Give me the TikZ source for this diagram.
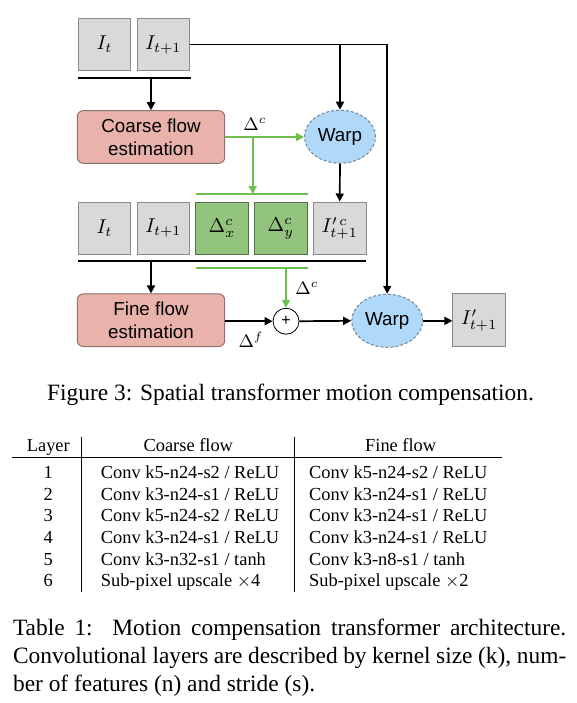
\documentclass[tikz,border=0pt]{standalone}
\usepackage{fontspec}
\setmainfont{Liberation Serif}
\newfontfamily\diagfont{Liberation Sans}
\usetikzlibrary{arrows.meta,shapes.geometric}

\definecolor{imgfill}{HTML}{D9D9D9}
\definecolor{imgedge}{HTML}{8A8A8A}
\definecolor{flowfill}{HTML}{E9B2AA}
\definecolor{flowedge}{HTML}{8C7370}
\definecolor{deltafill}{HTML}{93C47D}
\definecolor{deltaedge}{HTML}{54704A}
\definecolor{flowgreen}{HTML}{6DC04B}
\definecolor{warpfill}{HTML}{B0D8F8}
\definecolor{warpedge}{HTML}{6F8497}

\begin{document}
\begin{tikzpicture}[%
    x=0.5pt, y=-0.5pt,
    line width=0.85pt,
    >={Triangle[length=4pt,width=4pt]},
    imgbox/.style={
        draw=imgedge, fill=imgfill, line width=0.5pt,
        minimum width=26.3pt, minimum height=26.3pt, inner sep=0pt,
        font=\fontsize{10}{12}\selectfont
    },
    deltabox/.style={imgbox, draw=deltaedge, fill=deltafill},
    flowbox/.style={
        draw=flowedge, fill=flowfill, line width=0.5pt, rounded corners=3pt,
        minimum width=73.7pt, minimum height=26.3pt, inner sep=0pt,
        align=center, font=\diagfont\fontsize{9.4}{11.5}\selectfont
    },
    warpnode/.style={
        ellipse, draw=warpedge, fill=warpfill, line width=0.5pt,
        dash pattern=on 1.5pt off 1pt,
        minimum width=35.5pt, minimum height=26.5pt, inner sep=0pt,
        font=\diagfont\fontsize{9.4}{11.5}\selectfont
    },
    sumnode/.style={
        circle, draw=black, fill=white, line width=0.4pt,
        minimum size=13pt, inner sep=0pt,
        font=\diagfont\fontsize{8}{8}\selectfont
    },
    bar/.style={line width=1pt},
    greenbar/.style={draw=flowgreen, line width=1pt},
    greenarrow/.style={draw=flowgreen, line width=0.8pt,
        -{Triangle[length=4pt,width=4pt,fill=flowgreen]}},
    deltalabel/.style={inner sep=0pt, font=\fontsize{9}{11}\selectfont},
    cell/.style={anchor=base, inner sep=0pt, font=\fontsize{9.2}{11}\selectfont},
    caption/.style={inner sep=0pt, font=\fontsize{11.7}{13.85}\selectfont}
]
    % Fix the page to the size of the reference.
    \useasboundingbox (0,0) rectangle (577,703);

    % Input frames.
    \node[imgbox] (it)  at (104.5,44.5) {$I_t$};
    \node[imgbox] (itp) at (163.3,44.5) {$I_{t+1}$};
    \draw[bar] (78,78.3) -- (191,78.3);
    \coordinate (bara) at (151,78.3);

    % Coarse stage.
    \node[flowbox]  (coarse) at (151,137)   {Coarse flow\\estimation};
    \node[warpnode] (warpa)  at (340,136.7) {Warp};

    % Second row of inputs.
    \node[imgbox]   (ib)  at (104.5,228.3) {$I_t$};
    \node[imgbox]   (ibp) at (163.3,228.3) {$I_{t+1}$};
    \node[deltabox] (dx)  at (222,228.3)   {$\Delta^c_x$};
    \node[deltabox] (dy)  at (280.8,228.3) {$\Delta^c_y$};
    \node[imgbox]   (iwc) at (339.7,228.3) {$I'^{\,c}_{t+1}$};
    \draw[greenbar] (195.7,194) -- (308.3,194);
    \draw[bar] (78,260.7) -- (366,260.7);
    \draw[greenbar] (195.7,268.3) -- (308.3,268.3);
    \coordinate (gtop) at (252.7,194);
    \coordinate (barb) at (151,260.7);
    \coordinate (gbot) at (286,268.3);

    % Fine stage.
    \node[flowbox]  (fine)  at (151,320.2)   {Fine flow\\estimation};
    \node[sumnode]  (plus)  at (286,321.2)   {+};
    \node[warpnode] (warpb) at (387.2,320.8) {Warp};
    \node[imgbox]   (out)   at (479.2,320.2) {$I'_{t+1}$};

    % Connections of the coarse stage.
    \draw[->] (bara) -- (coarse.north);
    \draw[->] (itp.east) -| (warpb.north);
    \draw[->] (warpa.north |- itp.east) -- (warpa.north);
    \draw[greenarrow] (coarse.east) -- (coarse.east -| warpa.west);
    \coordinate (gsplit) at (gtop |- coarse.east);
    \draw[greenarrow] (gsplit) -- (gtop);
    \draw[->] (warpa.south) -- (iwc.north);
    \node[deltalabel] (dca) at (255,124.5) {$\Delta^c$};

    % Connections of the fine stage.
    \draw[->] (barb) -- (fine.north);
    \draw[greenarrow] (gbot) -- (plus.north);
    \draw[->] (fine.east |- plus.west) -- (plus.west);
    \draw[->] (plus.east) -- (warpb.west);
    \draw[->] (warpb.east) -- (warpb.east -| out.west);
    \node[deltalabel] (dcb) at (307,288.3) {$\Delta^c$};
    \node[deltalabel] (df)  at (251,340)   {$\Delta^f$};

    % Figure caption.
    \node[caption, anchor=base] (figcap) at (290.5,400)
        {Figure 3: Spatial transformer motion compensation.};

    % Table rules.
    \draw[line width=0.5pt] (11.7,457.7) -- (501.7,457.7);
    \draw[line width=0.5pt] (81,436.7) -- (81,591.7);
    \draw[line width=0.5pt] (294.3,436.7) -- (294.3,591.7);

    % Table header.
    \node[cell] (hlayer)  at (48.3,451)  {Layer};
    \node[cell] (hcoarse) at (188.3,451) {Coarse flow};
    \node[cell] (hfine)   at (400.7,451) {Fine flow};

    % Table rows.
    \foreach \n/\cf/\ff [count=\r from 0] in {%
        1/{Conv k5-n24-s2 / ReLU}/{Conv k5-n24-s2 / ReLU},
        2/{Conv k3-n24-s1 / ReLU}/{Conv k3-n24-s1 / ReLU},
        3/{Conv k5-n24-s2 / ReLU}/{Conv k3-n24-s1 / ReLU},
        4/{Conv k3-n24-s1 / ReLU}/{Conv k3-n24-s1 / ReLU},
        5/{Conv k3-n32-s1 / tanh}/{Conv k3-n8-s1 / tanh},
        6/{Sub-pixel upscale $\times$4}/{Sub-pixel upscale $\times$2}} {
        \node[cell] (layer\n) at (48.3,478.3+21.7*\r) {\n};
        \node[cell, anchor=base west] (coarse\n) at (100,478.3+21.7*\r) {\cf};
        \node[cell, anchor=base west] (fine\n) at (308.3,478.3+21.7*\r) {\ff};
    }

    % Table caption.
    \node[caption, anchor=base west] (tabcap) at (12.2,635.7) {%
        \parbox[t]{276.6pt}{Table 1:\ \ Motion compensation transformer
        architecture.\linebreak Convolutional layers are described by
        kernel size (k), num-\linebreak ber of features (n) and stride (s).}};
\end{tikzpicture}
\end{document}
